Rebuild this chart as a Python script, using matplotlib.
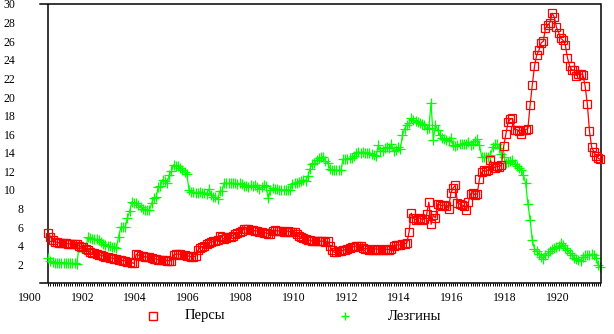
import numpy as np
import matplotlib
matplotlib.use("Agg")
import matplotlib.pyplot as plt
from matplotlib.lines import Line2D
import matplotlib.transforms as mtrans

# ---- data (monthly, Sep 1900 .. Aug 1921) ----
start_year = 1900
start_month = 8  # September (0-based)

persy = [
    5.4, 5.0, 4.6, 4.4,                                              # 1900
    4.4, 4.3, 4.3, 4.3, 4.3, 4.2, 4.2, 4.2, 4.2, 4.2, 4.0, 3.9,      # 1901
    3.9, 3.7, 3.5, 3.3, 3.2, 3.2, 3.1, 3.0, 3.0, 2.9, 2.8, 2.8,      # 1902
    2.7, 2.7, 2.6, 2.6, 2.5, 2.5, 2.4, 2.4, 2.3, 2.3, 2.2, 2.1,      # 1903
    3.1, 3.0, 2.9, 2.9, 2.8, 2.8, 2.8, 2.7, 2.6, 2.6, 2.5, 2.5,      # 1904
    2.5, 2.5, 2.4, 2.4, 2.4, 3.0, 3.1, 3.1, 3.1, 3.0, 3.0, 2.9,      # 1905
    2.9, 2.8, 2.8, 2.9, 3.5, 3.8, 3.9, 4.0, 4.2, 4.3, 4.4, 4.5,      # 1906
    4.5, 4.6, 5.1, 4.9, 4.7, 4.8, 4.9, 5.0, 5.1, 5.3, 5.4, 5.5,      # 1907
    5.6, 5.8, 5.8, 5.8, 5.7, 5.7, 5.6, 5.6, 5.5, 5.5, 5.4, 5.4,      # 1908
    5.3, 5.3, 5.6, 5.7, 5.6, 5.6, 5.6, 5.5, 5.5, 5.6, 5.5, 5.5,      # 1909
    5.5, 5.3, 5.1, 4.9, 4.8, 4.7, 4.6, 4.6, 4.5, 4.5, 4.5, 4.5,      # 1910
    4.5, 4.5, 4.4, 4.5, 4.0, 3.5, 3.3, 3.3, 3.4, 3.4, 3.5, 3.6,      # 1911
    3.7, 3.8, 3.9, 3.9, 4.0, 4.0, 4.0, 3.8, 3.7, 3.7, 3.6, 3.6,      # 1912
    3.6, 3.7, 3.6, 3.6, 3.6, 3.7, 3.6, 3.6, 3.7, 4.0, 4.1, 4.1,      # 1913
    4.1, 4.2, 4.2, 4.3, 5.5, 7.5, 7.0, 6.8, 6.9, 7.0, 6.8, 6.9,      # 1914
    7.4, 8.7, 6.3, 7.3, 7.0, 8.5, 8.4, 8.3, 8.4, 8.3, 8.0, 9.7,      # 1915
    10.2, 10.5, 8.6, 8.5, 8.4, 8.3, 7.8, 8.7, 9.6, 9.7, 9.5, 9.6,    # 1916
    11.2, 11.9, 12.1, 12.0, 12.2, 13.2, 12.6, 12.4, 12.6, 12.5, 12.7, 14.7,  # 1917
    16.0, 17.3, 17.6, 17.7, 16.5, 16.5, 16.3, 16.0, 16.4, 16.5, 16.6, 19.1,  # 1918
    21.3, 23.3, 24.5, 25.0, 25.8, 26.0, 27.4, 27.7, 28.0, 29.0, 28.6, 27.5,  # 1919
    26.9, 26.3, 26.1, 25.6, 24.2, 23.3, 22.9, 22.9, 22.3, 22.5, 22.5, 22.4,  # 1920
    21.2, 19.3, 16.3, 14.6, 14.1, 13.7, 13.4, 13.3,                  # 1921
]

lezginy = [
    2.7, 2.4, 2.3, 2.2,                                              # 1900
    2.2, 2.2, 2.2, 2.2, 2.2, 2.1, 2.1, 2.1, 2.1, 2.0, 3.9, 3.9,      # 1901
    3.8, 3.6, 4.9, 4.8, 4.7, 4.7, 4.7, 4.6, 4.4, 4.2, 4.1, 4.0,      # 1902
    4.0, 3.9, 3.9, 3.8, 5.0, 6.0, 6.0, 6.0, 7.0, 7.7, 8.7, 8.6,      # 1903
    8.6, 8.4, 8.2, 8.0, 7.9, 7.8, 7.8, 8.6, 9.1, 9.2, 10.3, 10.4,    # 1904
    11.1, 11.0, 10.8, 11.6, 12.0, 12.7, 12.6, 12.6, 12.4, 12.2, 11.9, 11.7,  # 1905
    10.0, 9.8, 9.8, 9.7, 9.7, 9.8, 9.7, 9.7, 9.6, 10.1, 9.5, 9.3,    # 1906
    9.2, 9.0, 9.9, 9.9, 10.8, 10.7, 10.7, 10.8, 10.7, 10.7, 10.6, 10.7,  # 1907
    10.6, 10.4, 10.4, 10.3, 10.5, 10.4, 10.5, 10.3, 10.1, 10.3, 10.5, 10.4,  # 1908
    9.1, 10.0, 10.2, 10.1, 10.1, 10.0, 10.0, 10.0, 10.0, 10.0, 10.0, 10.6,   # 1909
    10.8, 10.7, 10.9, 11.0, 11.1, 11.0, 11.5, 12.3, 12.8, 12.9, 13.2, 13.4,  # 1910
    13.5, 13.6, 13.1, 12.9, 12.3, 12.2, 12.1, 12.1, 12.1, 12.1, 13.3, 13.3,  # 1911
    13.3, 13.4, 13.4, 13.7, 14.0, 14.1, 14.0, 14.1, 14.0, 14.0, 14.0, 13.9,  # 1912
    13.8, 13.7, 14.8, 14.2, 14.2, 14.5, 14.6, 14.5, 14.9, 14.2, 14.3, 14.6,  # 1913
    14.4, 15.9, 16.6, 17.0, 17.2, 17.7, 17.5, 17.4, 17.3, 17.2, 17.1, 17.0,  # 1914
    16.6, 16.7, 19.4, 15.4, 17.0, 16.5, 15.9, 15.6, 15.5, 15.4, 15.3, 15.6,  # 1915
    14.8, 14.7, 14.8, 14.9, 15.0, 15.0, 15.0, 15.2, 14.8, 15.0, 15.3, 15.5,  # 1916
    14.8, 13.6, 13.5, 13.5, 13.6, 13.8, 14.6, 14.9, 14.9, 14.5, 13.9, 13.6,  # 1917
    12.9, 13.0, 13.1, 13.2, 12.8, 12.6, 12.4, 12.1, 11.6, 10.7, 8.5, 6.8,    # 1918
    4.6, 3.7, 3.4, 3.1, 2.8, 2.6, 3.0, 3.2, 3.4, 3.7, 3.8, 3.9,      # 1919
    4.0, 4.3, 4.1, 3.8, 3.5, 3.2, 3.0, 2.7, 2.6, 2.5, 2.4, 2.8,      # 1920
    3.0, 3.0, 3.0, 3.1, 3.0, 2.7, 1.9, 1.7,                          # 1921
]

x_tick_labels = [1900, 1902, 1904, 1906, 1908, 1910, 1912, 1914, 1916, 1918, 1920]
y_tick_labels = [2, 4, 6, 8, 10, 12, 14, 16, 18, 20, 22, 24, 26, 28, 30]
series_names = ["Персы", "Лезгины"]

# monthly time positions (mid-month)
n = len(persy)
t = start_year + (start_month + 0.5 + np.arange(n)) / 12.0

# ---- figure ----
W, H, DPI = 614, 334, 100
fig = plt.figure(figsize=(W / DPI, H / DPI), dpi=DPI)
plt.rcParams['font.family'] = ['Liberation Serif', 'DejaVu Serif']

ax_left_px, ax_right_px = 29.5, 600.5
ax_top_px, ax_bot_px = 4, 283
ax = fig.add_axes([ax_left_px / W, 1 - ax_bot_px / H,
                   (ax_right_px - ax_left_px) / W, (ax_bot_px - ax_top_px) / H])

x0 = 1900
x1 = t[-1]
ax.set_xlim(x0, x1)
ax.set_ylim(0, 30)

red = "#ff0000"
green = "#00ff00"
ax.plot(t, persy, color=red, lw=0.9, marker='s', markersize=6.0,
        markerfacecolor='none', markeredgecolor=red, markeredgewidth=0.9,
        clip_on=False, zorder=3)
ax.plot(t, lezginy, color=green, lw=0.9, marker='+', markersize=6.5,
        markeredgewidth=0.9, clip_on=False, zorder=2)

# frame
frame_lw = 1.1
frame_start = 1900 + (40 - ax_left_px) / (ax_right_px - ax_left_px) * (x1 - x0)
for s in ['top', 'bottom', 'right']:
    ax.spines[s].set_linewidth(frame_lw)
    ax.spines[s].set_color('black')
ax.spines['left'].set_visible(False)
ax.spines['top'].set_bounds(frame_start, x1)
ax.spines['bottom'].set_bounds(frame_start, x1)
ax.axvline(t[0], color='black', lw=frame_lw, zorder=1)

# x ticks
ax.set_xticks(x_tick_labels)
ax.set_xticklabels([str(v) for v in x_tick_labels], fontsize=8.5)
ax.tick_params(axis='x', which='major', length=0, pad=6.5)
ax.set_xticks(t, minor=True)
ax.tick_params(axis='x', which='minor', length=2.4, width=0.7, direction='out')
ax.set_yticks([])

# y labels (manual placement to mimic the original)
tr = mtrans.blended_transform_factory(fig.transFigure, ax.transData)
tr = tr + mtrans.ScaledTranslation(0, -1.5 / DPI, fig.dpi_scale_trans)
for v in y_tick_labels:
    xr = 15.5 if v >= 10 else 23.5
    ax.text(xr / W, v, str(v), transform=tr, ha='right', va='center',
            fontsize=8.5, clip_on=False)

# legend (manual)
leg_y = 1 - 316 / H
fig.add_artist(Line2D([153 / W], [leg_y], marker='s', markersize=5.5,
                      markerfacecolor='none', markeredgecolor=red,
                      markeredgewidth=1.0, transform=fig.transFigure))
fig.text(185 / W, leg_y, series_names[0], ha='left', va='center', fontsize=10.5)
fig.add_artist(Line2D([345 / W], [leg_y], marker='+', markersize=6,
                      markeredgecolor=green, markeredgewidth=1.0,
                      transform=fig.transFigure))
fig.text(388 / W, leg_y, series_names[1], ha='left', va='center', fontsize=10.5)

fig.savefig("out.png", dpi=DPI)
